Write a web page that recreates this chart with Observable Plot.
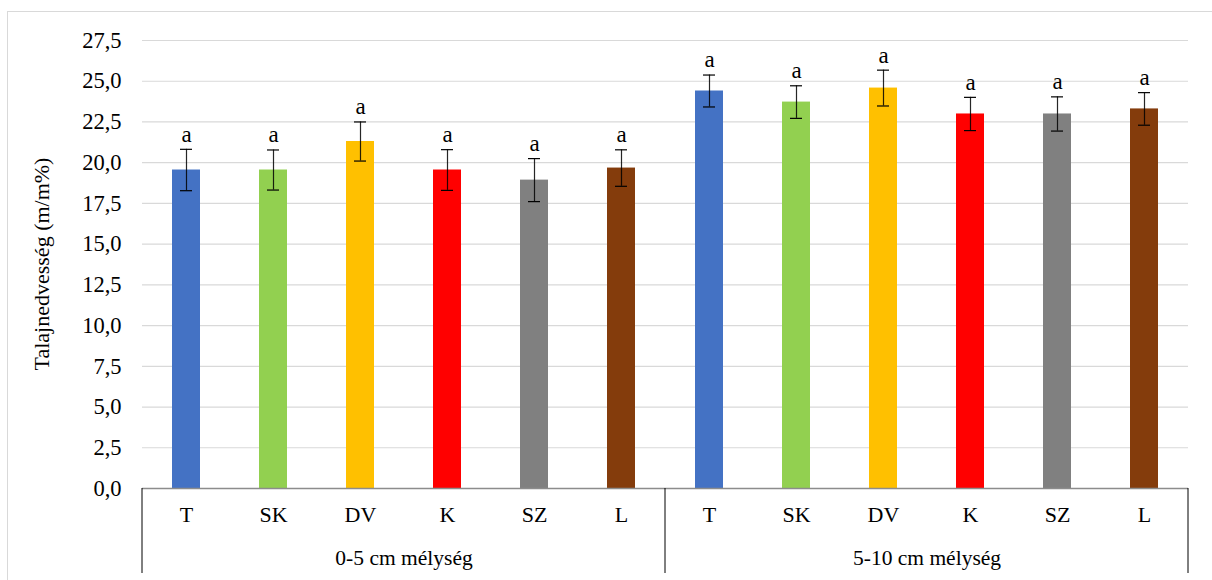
<!DOCTYPE html>
<html>
<head>
<meta charset="utf-8">
<script src="https://cdn.jsdelivr.net/npm/d3@7"></script>
<script src="https://cdn.jsdelivr.net/npm/@observablehq/plot@0.6"></script>
<style>
  html, body { margin: 0; padding: 0; background: #fff; }
  #chart { width: 1212px; height: 580px; overflow: hidden; }
  #chart svg, #chart svg text { font-family: "Liberation Serif", "Times New Roman", serif !important; }
</style>
</head>
<body>
<div id="chart"></div>
<script>
const groups = ["0-5 cm mélység", "5-10 cm mélység"];
const categories = ["T", "SK", "DV", "K", "SZ", "L"];
const colors = ["#4472C4", "#92D050", "#FFC000", "#FF0000", "#808080", "#843C0C"];
const means05 = [19.55, 19.55, 21.3, 19.55, 18.93, 19.67];
const errors05 = [1.27, 1.23, 1.2, 1.25, 1.32, 1.12];
const means510 = [24.4, 23.72, 24.58, 22.99, 22.99, 23.3];
const errors510 = [0.98, 1.0, 1.1, 1.02, 1.05, 1.0];
const letters05 = ["a", "a", "a", "a", "a", "a"];
const letters510 = ["a", "a", "a", "a", "a", "a"];
const yTicks = [0, 2.5, 5, 7.5, 10, 12.5, 15, 17.5, 20, 22.5, 25, 27.5];
const yTitle = "Talajnedvesség (m/m%)";

const data = [];
categories.forEach((c, i) => data.push({group: groups[0], cat: c, v: means05[i], e: errors05[i], sig: letters05[i]}));
categories.forEach((c, i) => data.push({group: groups[1], cat: c, v: means510[i], e: errors510[i], sig: letters510[i]}));

const font = "\"Liberation Serif\", \"Times New Roman\", serif";

const plot = Plot.plot({
  width: 1212,
  height: 580,
  marginLeft: 142,
  marginRight: 24,
  marginTop: 40,
  marginBottom: 92,
  style: {fontFamily: font, color: "#000", background: "#fff", overflow: "visible"},
  fx: {domain: groups, padding: 0, axis: null, label: null},
  x: {domain: categories, paddingInner: 0.68, paddingOuter: 0.34, axis: null, label: null},
  y: {domain: [0, 27.5], axis: null, label: null},
  color: {domain: categories, range: colors},
  marks: [
    Plot.gridY(yTicks, {stroke: "#d9d9d9", strokeOpacity: 1, strokeWidth: 1.2}),
    Plot.barY(data, {fx: "group", x: "cat", y: "v", fill: "cat"}),
    Plot.ruleY([0], {stroke: "#8c8c8c", strokeWidth: 1.5}),
    Plot.ruleX(data, {fx: "group", x: "cat", y1: d => d.v - d.e, y2: d => d.v + d.e, stroke: "#000", strokeWidth: 1.2, strokeOpacity: 0.85}),
    Plot.tickY(data, {fx: "group", x: "cat", y: d => d.v - d.e, stroke: "#000", strokeWidth: 1.2, insetLeft: 8, insetRight: 8}),
    Plot.tickY(data, {fx: "group", x: "cat", y: d => d.v + d.e, stroke: "#000", strokeWidth: 1.2, insetLeft: 8, insetRight: 8}),
    Plot.text(data, {fx: "group", x: "cat", y: d => d.v + d.e, text: "sig", dy: -15, fontSize: 23, lineAnchor: "middle", fill: "#000"}),
    Plot.axisX({anchor: "bottom", tickSize: 0, tickPadding: 18, fontSize: 22, label: null, fill: "#000"}),
    Plot.text(groups, {fx: d => d, text: d => d, frameAnchor: "bottom", dy: 70, fontSize: 21.5, lineAnchor: "middle", fill: "#000"}),
    Plot.axisY(yTicks, {anchor: "left", tickSize: 0, tickPadding: 21, fontSize: 22.5, label: null, fill: "#000",
      tickFormat: d => d.toFixed(1).replace(".", ",")})
  ]
});

document.getElementById("chart").appendChild(plot);

// Decorations based on the library's scales
const svg = d3.select(plot);
const fx = plot.scale("fx");
const y = plot.scale("y");
const y0 = y.apply(0);
const edges = groups.map(g => fx.apply(g));
edges.push(fx.apply(groups[groups.length - 1]) + fx.bandwidth);
svg.append("g")
  .selectAll("line")
  .data(edges)
  .join("line")
  .attr("x1", d => d).attr("x2", d => d)
  .attr("y1", y0).attr("y2", 573)
  .attr("stroke", "#000").attr("stroke-width", 1);

// outer chart border
svg.insert("rect", ":first-child")
  .attr("x", 7.5).attr("y", 11.5)
  .attr("width", 1300).attr("height", 700)
  .attr("fill", "none").attr("stroke", "#d9d9d9").attr("stroke-width", 1);

// y axis title
svg.append("text")
  .attr("transform", `translate(44,${(y.apply(0) + y.apply(27.5)) / 2}) rotate(-90)`)
  .attr("text-anchor", "middle")
  .attr("dominant-baseline", "middle")
  .attr("font-size", 22)
  .attr("fill", "#000")
  .text(yTitle);
</script>
</body>
</html>
